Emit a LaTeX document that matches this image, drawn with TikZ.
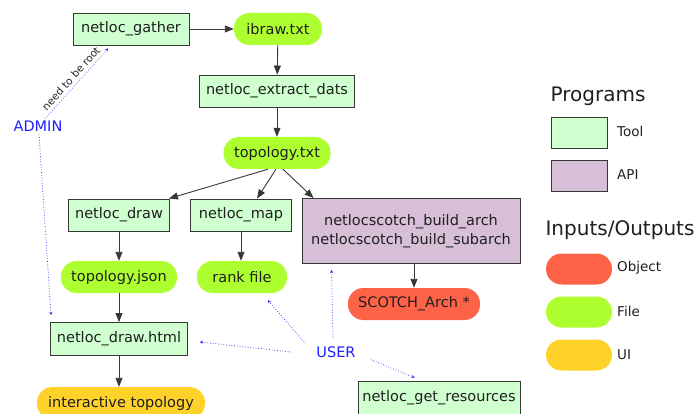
\documentclass[tikz,border=0pt]{standalone}
\usepackage{fontspec}
\setmainfont{DejaVu Sans}
\usetikzlibrary{arrows.meta}

\definecolor{toolgreen}{RGB}{208,255,208}
\definecolor{apipurple}{RGB}{216,191,216}
\definecolor{objred}{RGB}{255,99,71}
\definecolor{filegreen}{RGB}{173,255,47}
\definecolor{uiyellow}{RGB}{255,210,42}
\definecolor{whoblue}{RGB}{30,30,255}
\definecolor{edgegray}{RGB}{55,55,55}

\begin{document}
\begin{tikzpicture}[x=1pt,y=-1pt]
\tikzstyle{every node}+=[inner sep=0pt, text=black!88, font=\fontsize{14.5}{19}\selectfont]
\tikzstyle{tool}=[draw=edgegray, line width=0.9pt, fill=toolgreen, minimum height=32pt]
\tikzstyle{api}=[tool, fill=apipurple]
\tikzstyle{io}=[rounded corners=15.5pt, minimum height=32pt]
\tikzstyle{object}=[io, fill=objred]
\tikzstyle{file}=[io, fill=filegreen]
\tikzstyle{ui}=[io, fill=uiyellow]
\tikzstyle{flow}=[edgegray, line width=0.9pt, -{Triangle[length=9pt,width=7pt]}]
\tikzstyle{who}=[whoblue, line width=0.7pt, dotted, -{Stealth[length=3pt,width=3pt]}]
\tikzstyle{whotext}=[text=whoblue]
\tikzstyle{legtext}=[font=\fontsize{13.5}{16}\selectfont, anchor=west]
\tikzstyle{legtitle}=[font=\fontsize{20}{24}\selectfont]
\clip (0,0) rectangle (698,414);
% programs and their files
\node [tool, minimum width=116pt] (gather) at (131,29) {netloc\_gather};
\node [file, minimum width=88pt] (ibraw) at (278,29) {ibraw.txt};
\node [tool, minimum width=155pt] (extract) at (277,91) {netloc\_extract\_dats};
\node [file, minimum width=107pt] (topo) at (277,153) {topology.txt};
\node [tool, minimum width=101pt] (draw) at (119,215) {netloc\_draw};
\node [tool, minimum width=101pt] (map) at (241,215) {netloc\_map};
\node [api, minimum width=218pt, minimum height=65pt, align=center] (scotch) at (411,231) {netlocscotch\_build\_arch\\netlocscotch\_build\_subarch};
\node [file, minimum width=116pt] (json) at (119,277) {topology.json};
\node [file, minimum width=90pt] (rank) at (242,277) {rank file};
\node [object, minimum width=132pt] (arch) at (414,304) {SCOTCH\_Arch *};
\node [tool, minimum width=137pt, minimum height=33pt] (html) at (119,339) {netloc\_draw.html};
\node [ui, minimum width=168pt] (inter) at (121,403) {interactive topology};
\node [tool, minimum width=162pt, minimum height=34pt] (getres) at (439,398) {netloc\_get\_resources};
\node [whotext] (admin) at (38,126) {ADMIN};
\node [whotext] (user) at (336,352) {USER};
% legend
\node [legtitle] (progs) at (598,96) {Programs};
\node [tool, minimum width=56pt, minimum height=31pt] (ltool) at (579,133) {};
\node [legtext] (ltooltext) at (617,131) {Tool};
\node [api, minimum width=56pt, minimum height=31pt] (lapi) at (579,176) {};
\node [legtext] (lapitext) at (617,175) {API};
\node [legtitle] (inout) at (620,230) {Inputs/Outputs};
\node [object, minimum width=66pt, minimum height=31pt] (lobj) at (579,269) {};
\node [legtext] (lobjtext) at (617,268) {Object};
\node [file, minimum width=66pt, minimum height=31pt] (lfile) at (579,312) {};
\node [legtext] (lfiletext) at (617,311) {File};
\node [ui, minimum width=66pt, minimum height=31pt] (lui) at (579,355) {};
\node [legtext] (luitext) at (617,355) {UI};
% flow
\draw [flow] (gather) -- (ibraw);
\draw [flow] (ibraw) -- (extract);
\draw [flow] (extract) -- (topo);
\draw [flow] ([xshift=-9pt]topo.south) -- ([xshift=-1pt]draw.north east);
\draw [flow] ([xshift=-1pt]topo.south) -- ([xshift=16pt]map.north);
\draw [flow] ([xshift=6pt]topo.south) -- ([xshift=12pt]scotch.north west);
\draw [flow] (draw) -- (json);
\draw [flow] (map) -- (map |- rank.north);
\draw [flow] (json) -- (html);
\draw [flow] (html) -- (html |- inter.north);
\draw [flow] ([xshift=3pt]scotch.south) -- (arch);
% who uses what
\draw [who] ([xshift=7pt,yshift=2pt]admin.north) -- node [sloped, above=3pt, text=black!85, font=\fontsize{10.5}{12}\selectfont] {need to be root} ([xshift=-23pt,yshift=-3pt]gather.south);
\draw [who] ([xshift=1pt,yshift=-3pt]admin.south) -- ([xshift=1pt,yshift=7pt]html.north west);
\draw [who] ([xshift=-12pt,yshift=4pt]user.north west) -- ([xshift=71pt,yshift=-7pt]rank.south west);
\draw [who] ([xshift=-25pt]user.west) -- ([xshift=12pt,yshift=-3pt]html.east);
\draw [who] ([xshift=-3pt,yshift=9pt]user.north) -- ([xshift=30pt,yshift=-6pt]scotch.south west);
\draw [who] ([xshift=15pt,yshift=-2pt]user.south east) -- ([xshift=57pt,yshift=3pt]getres.north west);
\end{tikzpicture}
\end{document}
